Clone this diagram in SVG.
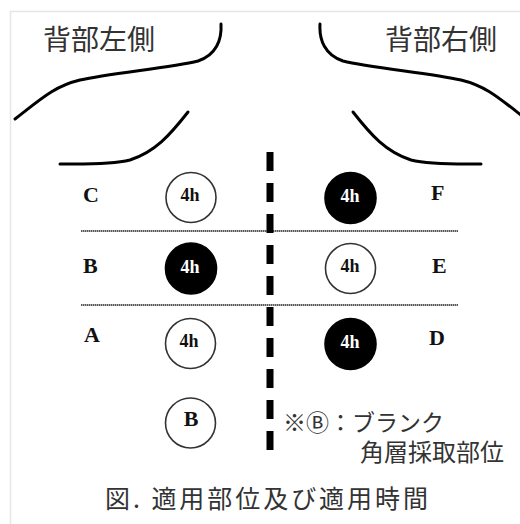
<svg xmlns="http://www.w3.org/2000/svg" width="520" height="524" viewBox="0 0 520 524">
  <style>
    .frame { fill: none; stroke: #e6e6e6; stroke-width: 1.5; }
    .body { fill: none; stroke: #000; stroke-width: 3; stroke-linecap: round; }
    .band { stroke: #5a5a5a; stroke-width: 2; stroke-dasharray: 1.5 0.5; }
    .mid { stroke: #000; stroke-width: 7; stroke-dasharray: 19 12; }
    .ring { fill: #fff; stroke: #333; stroke-width: 1.6; }
    .dot { fill: #000; stroke: #000; stroke-width: 1.6; }
    .lbl { font-family: "Liberation Serif", serif; font-weight: bold; font-size: 22px; fill: #111; }
    .t4 { font-family: "Liberation Serif", serif; font-weight: bold; font-size: 18px; text-anchor: middle; }
    .ink { fill: #111; }
    .rev { fill: #fff; }
    .jp { font-family: "Noto Sans CJK JP", "Noto Sans", sans-serif; fill: #333; }
  </style>

  <rect width="520" height="524" fill="#fff"/>
  <!-- outer frame (top and left edges) -->
  <path class="frame" d="M10.5,524 V11.5 H520"/>

  <!-- side headings -->
  <text class="jp" x="43" y="50" font-size="28">背部左側</text>
  <text class="jp" x="385" y="50" font-size="28">背部右側</text>

  <!-- shoulder / back outline, left half and its mirror -->
  <g id="outline-left">
    <path class="body" d="M221,24 C222,40 216,55 198,61 C170,68 110,73 80,80 C55,86 42,98 15,119"/>
    <path class="body" d="M188,112 C170,135 155,152 130,160 C110,165 80,164 60,164"/>
  </g>
  <g id="outline-right" transform="translate(541,0) scale(-1,1)">
    <path class="body" d="M221,24 C222,40 216,55 198,61 C170,68 110,73 80,80 C55,86 42,98 15,119"/>
    <path class="body" d="M188,112 C170,135 155,152 130,160 C110,165 80,164 60,164"/>
  </g>

  <!-- connectors: band separators and spine line -->
  <g id="connectors">
    <line class="band" x1="81" y1="231" x2="458" y2="231"/>
    <line class="band" x1="81" y1="305" x2="458" y2="305"/>
    <line class="mid" x1="270" y1="152" x2="270" y2="452"/>
  </g>

  <!-- row labels -->
  <g id="label-C"><text class="lbl" x="83" y="202">C</text></g>
  <g id="label-B"><text class="lbl" x="83" y="273">B</text></g>
  <g id="label-A"><text class="lbl" x="84" y="342">A</text></g>
  <g id="label-F"><text class="lbl" x="431" y="200">F</text></g>
  <g id="label-E"><text class="lbl" x="432" y="273">E</text></g>
  <g id="label-D"><text class="lbl" x="429" y="345">D</text></g>

  <!-- application sites -->
  <g id="site-C">
    <circle class="ring" cx="191" cy="197.5" r="25"/>
    <text class="t4 ink" x="190" y="201">4h</text>
  </g>
  <g id="site-B">
    <circle class="dot" cx="191" cy="268.5" r="25.5"/>
    <text class="t4 rev" x="190" y="273">4h</text>
  </g>
  <g id="site-A">
    <circle class="ring" cx="190.5" cy="343.5" r="25"/>
    <text class="t4 ink" x="189" y="347">4h</text>
  </g>
  <g id="site-F">
    <circle class="dot" cx="350.5" cy="198" r="25.5"/>
    <text class="t4 rev" x="350" y="202">4h</text>
  </g>
  <g id="site-E">
    <circle class="ring" cx="350.5" cy="268.5" r="25"/>
    <text class="t4 ink" x="350" y="272">4h</text>
  </g>
  <g id="site-D">
    <circle class="dot" cx="350.5" cy="344" r="25.5"/>
    <text class="t4 rev" x="350" y="348">4h</text>
  </g>
  <g id="site-blank">
    <circle class="ring" cx="190.5" cy="423" r="25"/>
    <text class="lbl" x="191" y="426" text-anchor="middle">B</text>
  </g>

  <!-- note -->
  <g id="note">
    <text class="jp" x="283" y="431" font-size="23">※Ⓑ：ブランク</text>
    <text class="jp" x="360" y="461" font-size="24">角層採取部位</text>
  </g>

  <!-- caption -->
  <text class="jp" x="105" y="508" font-size="25" fill="#111" textLength="323">図. 適用部位及び適用時間</text>
</svg>
